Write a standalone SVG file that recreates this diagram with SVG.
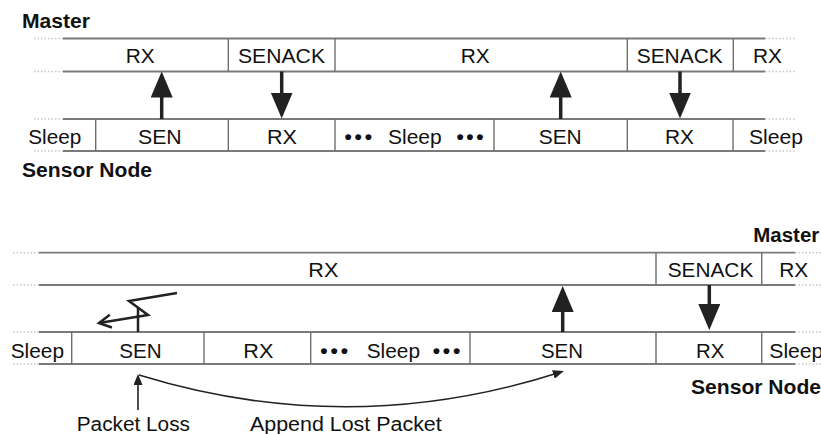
<svg xmlns="http://www.w3.org/2000/svg" width="821" height="434" viewBox="0 0 821 434">
<style>
  text { font-family: "Liberation Sans", Arial, sans-serif; font-size: 20px; fill: #111; }
  .b { font-weight: bold; }
  .dots { font-size: 21px; font-weight: bold; }
  .h { stroke: #7a7a7a; stroke-width: 1.8; fill: none; }
  .hd { stroke: #c8c8c8; stroke-width: 1.5; stroke-dasharray: 1.5 2; fill: none; }
  .v { stroke: #6f6f6f; stroke-width: 1.4; fill: none; }
  .big { stroke: #222; stroke-width: 3.5; fill: none; marker-end: url(#bigHead); }
  .thin { stroke: #222; stroke-width: 1.6; fill: none; marker-end: url(#smallHead); }
  .zig { stroke: #222; stroke-width: 2.5; fill: none; stroke-linejoin: miter; }
</style>
<defs>
  <marker id="bigHead" markerUnits="userSpaceOnUse" markerWidth="26" markerHeight="22" refX="16" refY="11" orient="auto">
    <path d="M0,0 L26,11 L0,22 z" fill="#222"/>
  </marker>
  <marker id="smallHead" markerUnits="userSpaceOnUse" markerWidth="11" markerHeight="9" refX="8" refY="4.5" orient="auto">
    <path d="M0,0 L11,4.5 L0,9 z" fill="#222"/>
  </marker>
  <marker id="openHead" markerUnits="userSpaceOnUse" markerWidth="16" markerHeight="16" refX="13" refY="8" orient="auto">
    <path d="M1,1.5 L13,8 L1,14.5" fill="none" stroke="#222" stroke-width="2.5"/>
  </marker>
</defs>

<!-- ===== Top diagram ===== -->
<g id="top-labels">
  <text class="b" x="22" y="28" textLength="68" lengthAdjust="spacingAndGlyphs">Master</text>
  <text class="b" x="22" y="176.5" textLength="130" lengthAdjust="spacingAndGlyphs">Sensor Node</text>
</g>

<g id="top-rails">
  <line class="hd" x1="34" y1="38.5" x2="63" y2="38.5"/>
  <line class="h" x1="63" y1="38.5" x2="765" y2="38.5"/>
  <line class="hd" x1="765" y1="38.5" x2="795" y2="38.5"/>
  <line class="hd" x1="34" y1="71.5" x2="63" y2="71.5"/>
  <line class="h" x1="63" y1="71.5" x2="765" y2="71.5"/>
  <line class="hd" x1="765" y1="71.5" x2="795" y2="71.5"/>
  <line class="hd" x1="34" y1="119" x2="63" y2="119"/>
  <line class="h" x1="63" y1="119" x2="765" y2="119"/>
  <line class="hd" x1="765" y1="119" x2="795" y2="119"/>
  <line class="hd" x1="34" y1="151" x2="63" y2="151"/>
  <line class="h" x1="63" y1="151" x2="765" y2="151"/>
  <line class="hd" x1="765" y1="151" x2="795" y2="151"/>
</g>

<g id="top-master-rx1"><text x="125.7" y="62.5" textLength="29" lengthAdjust="spacingAndGlyphs">RX</text></g>
<g id="top-master-senack1"><line class="v" x1="228.3" y1="38.5" x2="228.3" y2="71.5"/><text x="238" y="62.5" textLength="87" lengthAdjust="spacingAndGlyphs">SENACK</text></g>
<g id="top-master-rx2"><line class="v" x1="335" y1="38.5" x2="335" y2="71.5"/><text x="460.7" y="62.5" textLength="29" lengthAdjust="spacingAndGlyphs">RX</text></g>
<g id="top-master-senack2"><line class="v" x1="627.3" y1="38.5" x2="627.3" y2="71.5"/><text x="636.7" y="62.5" textLength="86" lengthAdjust="spacingAndGlyphs">SENACK</text></g>
<g id="top-master-rx3"><line class="v" x1="733.3" y1="38.5" x2="733.3" y2="71.5"/><text x="753" y="62.5" textLength="29" lengthAdjust="spacingAndGlyphs">RX</text></g>

<g id="top-node-sleep1"><text x="28.3" y="143.5" textLength="53" lengthAdjust="spacingAndGlyphs">Sleep</text></g>
<g id="top-node-sen1"><line class="v" x1="95.7" y1="119" x2="95.7" y2="151"/><text x="138" y="143.5" textLength="43.7" lengthAdjust="spacingAndGlyphs">SEN</text></g>
<g id="top-node-rx1"><line class="v" x1="228.3" y1="119" x2="228.3" y2="151"/><text x="267" y="143.5" textLength="30" lengthAdjust="spacingAndGlyphs">RX</text></g>
<g id="top-node-sleep2"><line class="v" x1="335" y1="119" x2="335" y2="151"/>
  <text class="dots" x="344.5" y="143.5" textLength="27.5" lengthAdjust="spacing">•••</text>
  <text x="388" y="143.5" textLength="53.7" lengthAdjust="spacingAndGlyphs">Sleep</text>
  <text class="dots" x="456.5" y="143.5" textLength="27" lengthAdjust="spacing">•••</text></g>
<g id="top-node-sen2"><line class="v" x1="494" y1="119" x2="494" y2="151"/><text x="538.7" y="143.5" textLength="43" lengthAdjust="spacingAndGlyphs">SEN</text></g>
<g id="top-node-rx2"><line class="v" x1="627.3" y1="119" x2="627.3" y2="151"/><text x="665" y="143.5" textLength="29" lengthAdjust="spacingAndGlyphs">RX</text></g>
<g id="top-node-sleep3"><line class="v" x1="733" y1="119" x2="733" y2="151"/><text x="749" y="143.5" textLength="54" lengthAdjust="spacingAndGlyphs">Sleep</text></g>

<!-- ===== Bottom diagram ===== -->
<g id="bottom-labels">
  <text class="b" x="753.3" y="241.5" textLength="66" lengthAdjust="spacingAndGlyphs">Master</text>
  <text class="b" x="691" y="393.5" textLength="130" lengthAdjust="spacingAndGlyphs">Sensor Node</text>
  <text x="76.7" y="430.5" textLength="113.3" lengthAdjust="spacingAndGlyphs">Packet Loss</text>
  <text x="250" y="430.5" textLength="191.7" lengthAdjust="spacingAndGlyphs">Append Lost Packet</text>
</g>

<g id="bottom-rails">
  <line class="hd" x1="13" y1="252.7" x2="39" y2="252.7"/>
  <line class="h" x1="39" y1="252.7" x2="795" y2="252.7"/>
  <line class="hd" x1="795" y1="252.7" x2="821" y2="252.7"/>
  <line class="hd" x1="13" y1="285" x2="39" y2="285"/>
  <line class="h" x1="39" y1="285" x2="795" y2="285"/>
  <line class="hd" x1="795" y1="285" x2="821" y2="285"/>
  <line class="hd" x1="13" y1="332" x2="39" y2="332"/>
  <line class="h" x1="39" y1="332" x2="795" y2="332"/>
  <line class="hd" x1="795" y1="332" x2="821" y2="332"/>
  <line class="hd" x1="13" y1="364" x2="39" y2="364"/>
  <line class="h" x1="39" y1="364" x2="795" y2="364"/>
  <line class="hd" x1="795" y1="364" x2="821" y2="364"/>
</g>

<g id="bottom-master-rx1"><text x="308.3" y="276.5" textLength="30" lengthAdjust="spacingAndGlyphs">RX</text></g>
<g id="bottom-master-senack"><line class="v" x1="656" y1="252.7" x2="656" y2="285"/><text x="667.7" y="276.5" textLength="85.6" lengthAdjust="spacingAndGlyphs">SENACK</text></g>
<g id="bottom-master-rx2"><line class="v" x1="761.7" y1="252.7" x2="761.7" y2="285"/><text x="779.3" y="276.5" textLength="29" lengthAdjust="spacingAndGlyphs">RX</text></g>

<g id="bottom-node-sleep1"><text x="10.7" y="357.5" textLength="53.3" lengthAdjust="spacingAndGlyphs">Sleep</text></g>
<g id="bottom-node-sen1"><line class="v" x1="71.7" y1="332" x2="71.7" y2="364"/><text x="119.3" y="357.5" textLength="42.4" lengthAdjust="spacingAndGlyphs">SEN</text></g>
<g id="bottom-node-rx1"><line class="v" x1="204" y1="332" x2="204" y2="364"/><text x="243.3" y="357.5" textLength="30" lengthAdjust="spacingAndGlyphs">RX</text></g>
<g id="bottom-node-sleep2"><line class="v" x1="310.7" y1="332" x2="310.7" y2="364"/>
  <text class="dots" x="320.2" y="357.5" textLength="28" lengthAdjust="spacing">•••</text>
  <text x="366.7" y="357.5" textLength="53.3" lengthAdjust="spacingAndGlyphs">Sleep</text>
  <text class="dots" x="432.8" y="357.5" textLength="27.5" lengthAdjust="spacing">•••</text></g>
<g id="bottom-node-sen2"><line class="v" x1="470" y1="332" x2="470" y2="364"/><text x="541" y="357.5" textLength="42" lengthAdjust="spacingAndGlyphs">SEN</text></g>
<g id="bottom-node-rx2"><line class="v" x1="656" y1="332" x2="656" y2="364"/><text x="696" y="357.5" textLength="28.3" lengthAdjust="spacingAndGlyphs">RX</text></g>
<g id="bottom-node-sleep3"><line class="v" x1="761.7" y1="332" x2="761.7" y2="364"/><text x="769.3" y="357.5" textLength="54" lengthAdjust="spacingAndGlyphs">Sleep</text></g>

<!-- ===== Connectors ===== -->
<g id="connectors">
  <line class="big" x1="161.7" y1="119" x2="161.7" y2="81.5"/>
  <line class="big" x1="281.7" y1="71.5" x2="281.7" y2="108.5"/>
  <line class="big" x1="560.7" y1="119" x2="560.7" y2="81.5"/>
  <line class="big" x1="680" y1="71.5" x2="680" y2="108.5"/>
  <line class="big" x1="562.7" y1="332" x2="562.7" y2="296"/>
  <line class="big" x1="709.3" y1="285" x2="709.3" y2="320"/>
  <line class="zig" x1="138" y1="332" x2="138" y2="307.5"/>
  <polyline class="zig" points="177,293 129,301 148,315 99,323" marker-end="url(#openHead)"/>
  <line class="thin" x1="138" y1="410" x2="138" y2="377"/>
  <path class="thin" d="M139,375 Q350,440 561,372"/>
</g>
</svg>
